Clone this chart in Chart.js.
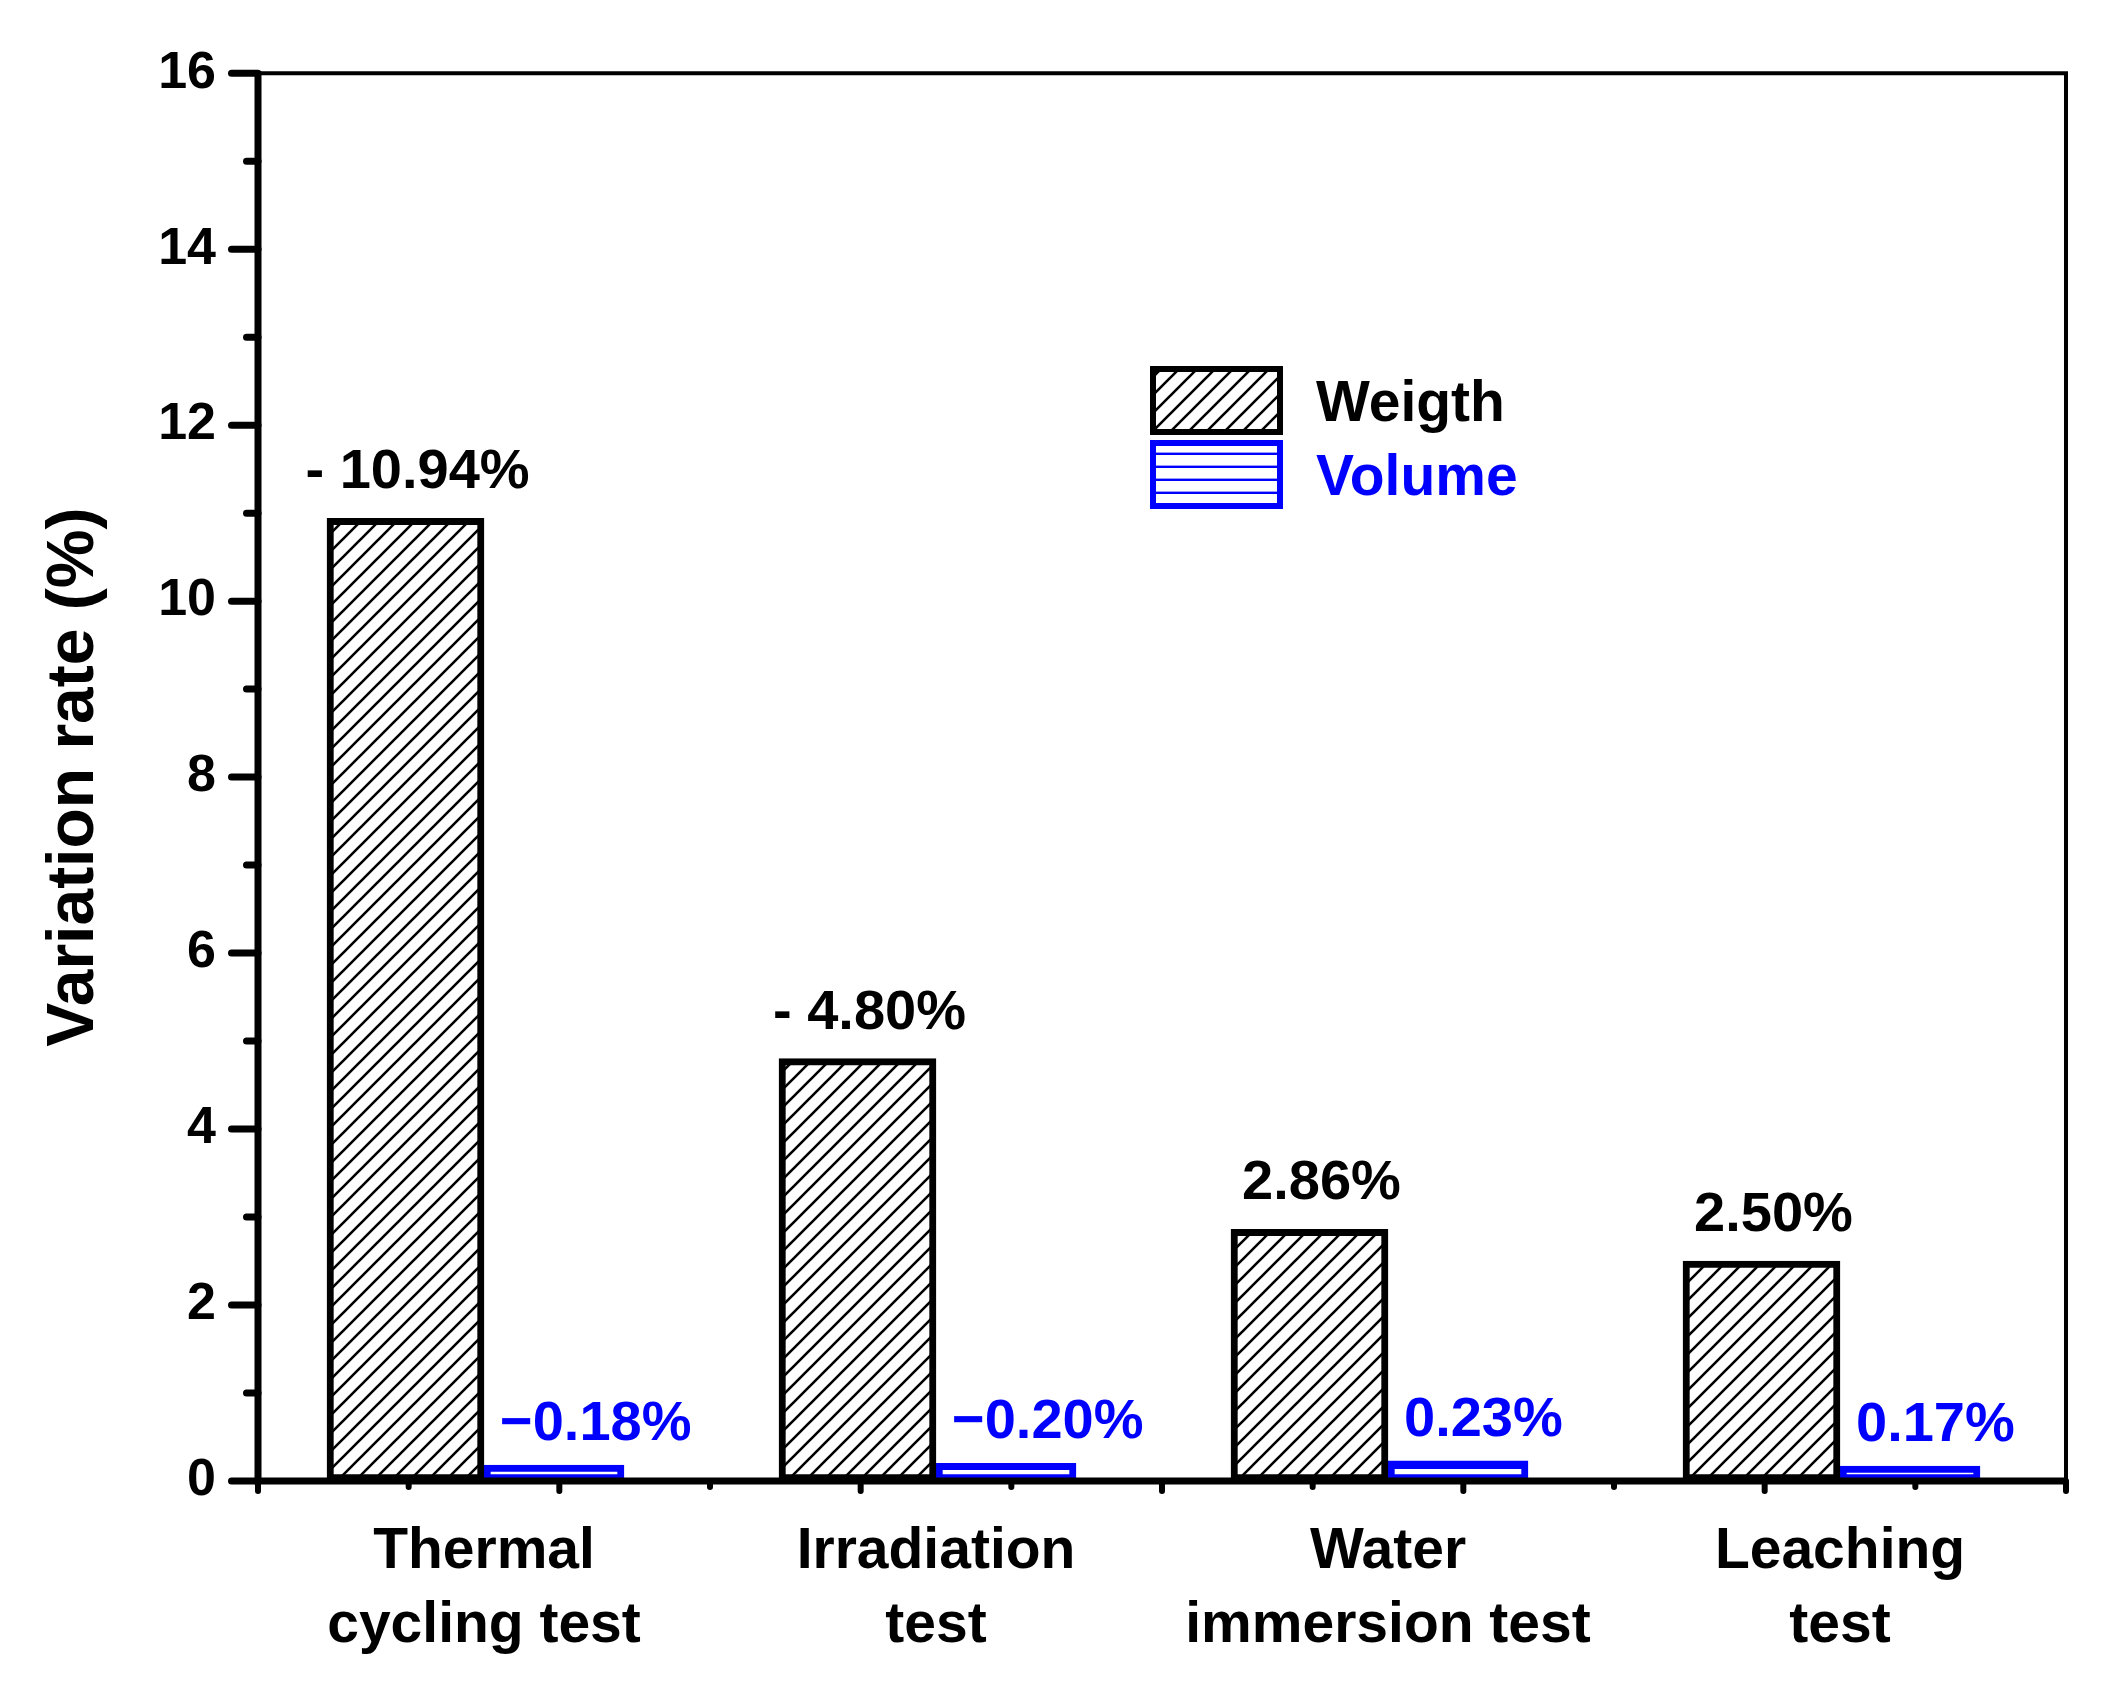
<!DOCTYPE html>
<html><head><meta charset="utf-8">
<script src="https://cdn.jsdelivr.net/npm/chart.js@4.4.1/dist/chart.umd.min.js"></script>
<style>html,body{margin:0;padding:0;background:#fff;}canvas{display:block}</style>
</head><body>
<canvas id="c" width="2106" height="1681"></canvas>
<script>
// ---- data ----
const categories = [['Thermal', 'cycling test'], ['Irradiation', 'test'], ['Water', 'immersion test'], ['Leaching', 'test']];
const seriesNames = ['Weigth', 'Volume'];
const weightValues = [10.94, 4.80, 2.86, 2.50];
const volumeValues = [0.18, 0.20, 0.23, 0.17];
const weightLabels = ['- 10.94%', '- 4.80%', '2.86%', '2.50%'];
const volumeLabels = ['\u22120.18%', '\u22120.20%', '0.23%', '0.17%'];
const yMin = 0, yMax = 16, yStep = 2;
const yTitle = 'Variation rate (%)';

// ---- styles ----
const FONT = "'Liberation Sans', Arial, sans-serif";
const BLUE = '#0000ff';
const BLACK = '#000000';

function diagPattern(color, size, lw) {
  const c = document.createElement('canvas');
  c.width = size; c.height = size;
  const g = c.getContext('2d');
  g.fillStyle = '#fff'; g.fillRect(0, 0, size, size);
  g.strokeStyle = color; g.lineWidth = lw;
  g.beginPath();
  for (let k = -1; k <= 1; k++) {
    g.moveTo(k * size - 1, size + 1);
    g.lineTo(k * size + size + 1, -1);
  }
  g.stroke();
  return g.createPattern(c, 'repeat');
}
function horizPattern(color, size, lw) {
  const c = document.createElement('canvas');
  c.width = 4; c.height = size;
  const g = c.getContext('2d');
  g.fillStyle = '#fff'; g.fillRect(0, 0, 4, size);
  g.fillStyle = color; g.fillRect(0, size - lw, 4, lw);
  return g.createPattern(c, 'repeat');
}
const ctx0 = document.getElementById('c').getContext('2d');
const weightFill = diagPattern(BLACK, 18, 2.6);
const volumeFill = horizPattern(BLUE, 13, 2.4);

const frameAndTicks = {
  id: 'frameAndTicks',
  afterDatasetsDraw(chart) {
    const { ctx, chartArea: a, scales: { x, y } } = chart;
    ctx.save();
    ctx.strokeStyle = BLACK;
    ctx.lineCap = 'butt';
    // top and right thin frame
    ctx.lineWidth = 4;
    ctx.beginPath();
    ctx.moveTo(a.left, a.top); ctx.lineTo(a.right, a.top); ctx.lineTo(a.right, a.bottom);
    ctx.stroke();
    // left & bottom axes
    ctx.lineWidth = 7;
    ctx.beginPath();
    ctx.moveTo(a.left, a.top - 2); ctx.lineTo(a.left, a.bottom + 3.5);
    ctx.moveTo(a.left - 3.5, a.bottom); ctx.lineTo(a.right + 2, a.bottom);
    ctx.stroke();
    // y ticks (major at even, minor at odd)
    ctx.lineCap = 'round';
    ctx.lineWidth = 7;
    for (let v = yMin; v <= yMax; v += yStep / 2) {
      const py = y.getPixelForValue(v);
      const len = (Math.round(v / (yStep / 2)) % 2 === 0) ? 30 : 15;
      ctx.beginPath();
      ctx.moveTo(a.left - len + 3.5, py); ctx.lineTo(a.left, py);
      ctx.stroke();
    }
    // x ticks: 12 divisions, alternate long/short
    ctx.lineWidth = 6;
    const n = 12;
    for (let i = 0; i <= n; i++) {
      const px = x.left + (x.right - x.left) * i / n;
      const end = a.bottom + (i % 2 === 0 ? 10 : 6);
      ctx.beginPath();
      ctx.moveTo(px, a.bottom); ctx.lineTo(px, end);
      ctx.stroke();
    }
    ctx.restore();
  }
};

const valueLabels = {
  id: 'valueLabels',
  afterDatasetsDraw(chart) {
    const { ctx } = chart;
    ctx.save();
    ctx.font = `bold 56px ${FONT}`;
    ctx.textBaseline = 'alphabetic';
    const m0 = chart.getDatasetMeta(0), m1 = chart.getDatasetMeta(1);
    ctx.fillStyle = BLACK; ctx.textAlign = 'center';
    m0.data.forEach((el, i) => ctx.fillText(weightLabels[i], el.x + 12, el.y - 30));
    ctx.fillStyle = BLUE; ctx.textAlign = 'left';
    m1.data.forEach((el, i) => ctx.fillText(volumeLabels[i], el.x - el.width / 2 + 16, el.y - 25));
    ctx.restore();
  }
};

const customLegend = {
  id: 'customLegend',
  afterDraw(chart) {
    const { ctx } = chart;
    ctx.save();
    const bx = 1150, bw = 133, bh = 69, tops = [366, 440];
    chart.data.datasets.forEach((ds, i) => {
      const t = tops[i];
      ctx.fillStyle = ds.backgroundColor;
      ctx.fillRect(bx, t, bw, bh);
      ctx.strokeStyle = ds.borderColor;
      ctx.lineWidth = 6;
      ctx.strokeRect(bx + 3, t + 3, bw - 6, bh - 6);
      ctx.fillStyle = ds.borderColor;
      ctx.font = `bold 57px ${FONT}`;
      ctx.textAlign = 'left';
      ctx.textBaseline = 'alphabetic';
      ctx.fillText(ds.label, 1316, t + bh / 2 + 20);
    });
    ctx.restore();
  }
};

new Chart(ctx0, {
  type: 'bar',
  data: {
    labels: categories,
    datasets: [
      { label: seriesNames[0], data: weightValues, backgroundColor: weightFill, borderColor: BLACK,
        borderWidth: 7, borderSkipped: false, barThickness: 157 },
      { label: seriesNames[1], data: volumeValues, backgroundColor: volumeFill, borderColor: BLUE,
        borderWidth: 7, borderSkipped: false, barThickness: 140 }
    ]
  },
  options: {
    responsive: false,
    animation: false,
    devicePixelRatio: 1,
    layout: { padding: { top: 66, right: 40, bottom: 0, left: 0 } },
    plugins: { legend: { display: false }, tooltip: { enabled: false } },
    scales: {
      x: {
        type: 'category',
        grid: { display: false, drawTicks: false },
        border: { display: false },
        ticks: { color: BLACK, font: { family: FONT, size: 57, weight: 'bold', lineHeight: 1.3 },
                 padding: 34, maxRotation: 0, autoSkip: false },
        afterFit: s => { s.height = 200; }
      },
      y: {
        min: yMin, max: yMax,
        grid: { display: false, drawTicks: false },
        border: { display: false },
        ticks: { stepSize: yStep, color: BLACK, padding: 42,
                 font: { family: FONT, size: 52, weight: 'bold' } },
        title: { display: true, text: yTitle, color: BLACK,
                 font: { family: FONT, size: 66, weight: 'bold' },
                 padding: { top: 35, bottom: 0 } },
        afterFit: s => { s.width = 258; }
      }
    }
  },
  plugins: [frameAndTicks, valueLabels, customLegend]
});
</script>
</body></html>
